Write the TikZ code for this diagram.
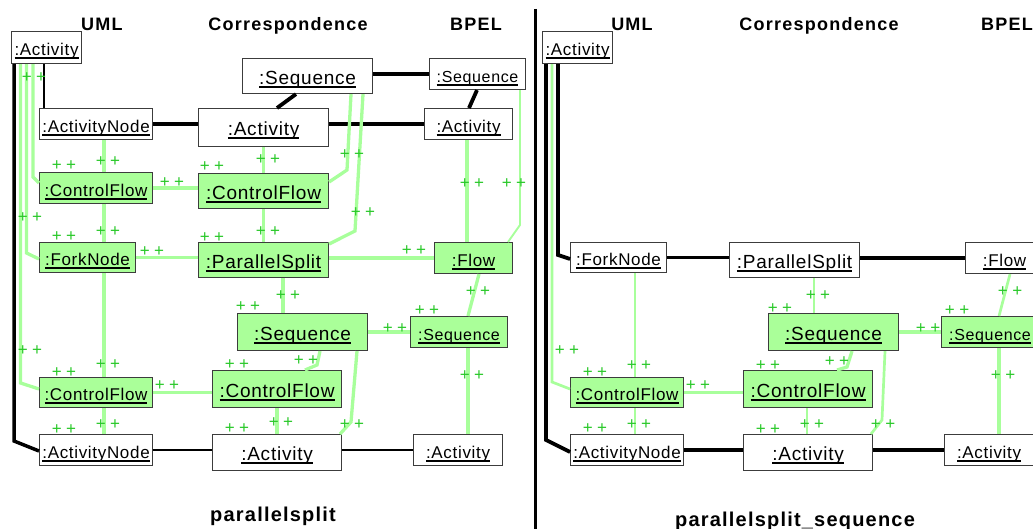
\documentclass[tikz,border=0pt]{standalone}
\usepackage{fontspec}
\setmainfont{Liberation Sans}
\newfontfamily\lblfont[LetterSpace=4]{Liberation Sans}
\newfontfamily\hdrfont[LetterSpace=7]{Liberation Sans}
\newfontfamily\ttlfont[LetterSpace=6]{Liberation Sans}
\newfontfamily\ppfont{Liberation Sans}

\definecolor{lgreen}{RGB}{170,255,153}
\definecolor{lgline}{RGB}{168,255,155}
\definecolor{pgreen}{RGB}{40,200,40}
\definecolor{boxline}{RGB}{60,60,60}

% underlined object label
\newcommand\utext[1]{\setbox0=\hbox{#1}\rlap{\copy0}\rule[-3.5pt]{\wd0}{1.8pt}}

% object box: name, x1, y1, x2, y2, fill style, font style, label
\newcommand\objnode[8]{%
  \node[obj,#6,#7,minimum width={(#4-#2)*1pt},minimum height={(#5-#3)*1pt}] (#1) at (#2,#3) {\utext{#8}};}

% "++" marker: name, x, y (centre of the marks)
\newcommand\pl[3]{\node[pp] (#1) at (#2,#3+6) {+\hspace{4.5pt}+};}

\tikzset{
  obj/.style={draw=boxline, line width=1.1pt, inner sep=0pt, anchor=north west,
              text height=18pt, text depth=2pt},
  umlf/.style={font=\lblfont\fontsize{17}{20}\selectfont},
  seqf/.style={font=\lblfont\fontsize{16}{19}\selectfont},
  corf/.style={font=\lblfont\fontsize{19}{22}\selectfont},
  new/.style={fill=lgreen},
  old/.style={fill=white},
  blk/.style={line width=3.8pt, black},
  blkthin/.style={line width=2pt, black},
  grn/.style={line width=3.3pt, lgline},
  grnmid/.style={line width=2.7pt, lgline},
  grnthin/.style={line width=1.9pt, lgline},
  pp/.style={font=\ppfont\fontsize{17}{20}\selectfont, text=pgreen, inner sep=0pt, anchor=base},
  hdr/.style={font=\hdrfont\bfseries\fontsize{18}{21}\selectfont, inner sep=0pt, anchor=base},
  ttl/.style={font=\ttlfont\bfseries\fontsize{20}{24}\selectfont, inner sep=0pt, anchor=base},
}

\begin{document}
\begin{tikzpicture}[x=1pt, y=-1pt]
\useasboundingbox (0,0) rectangle (1033,529);
\clip (0,0) rectangle (1033,529);

% ---------- column headings and titles ----------
\node[hdr] (hUmlL) at (102,31) {UML};
\node[hdr] (hCorL) at (288,31) {Correspondence};
\node[hdr] (hBpelL) at (476,31) {BPEL};
\node[hdr] (hUmlR) at (632,31) {UML};
\node[hdr] (hCorR) at (819,31) {Correspondence};
\node[hdr] (hBpelR) at (1007,31) {BPEL};
\node[ttl] (titleL) at (273,521) {parallelsplit};
\node[ttl] (titleR) at (795,526) {parallelsplit\_sequence};

% separator between the two rules
\coordinate (sepTop) at (535.5,9);
\coordinate (sepBot) at (535.5,529);
\draw[line width=3.6pt] (sepTop) -- (sepBot);

% ================= rule: parallelsplit =================
% UML side
\objnode{uAct}{11}{31}{81}{63}{old}{umlf}{:Activity}
\objnode{uAN1}{39}{108}{152}{139}{old}{umlf}{:ActivityNode}
\objnode{uCF1}{39}{172}{152}{203}{new}{umlf}{:ControlFlow}
\objnode{uFork}{39}{242}{135}{272}{new}{umlf}{:ForkNode}
\objnode{uCF2}{39}{377}{152}{407}{new}{umlf}{:ControlFlow}
\objnode{uAN2}{39}{434}{152}{465}{old}{umlf}{:ActivityNode}
% correspondence side
\objnode{cSeq}{242}{58}{372}{93}{old}{corf}{:Sequence}
\objnode{cAct1}{198}{108}{328}{146}{old}{corf}{:Activity}
\objnode{cCF1}{198}{173}{328}{208}{new}{corf}{:ControlFlow}
\objnode{cPS}{198}{242}{328}{277}{new}{corf}{:ParallelSplit}
\objnode{cSeq2}{237}{313}{367}{350}{new}{corf}{:Sequence}
\objnode{cCF2}{212}{370}{341}{407}{new}{corf}{:ControlFlow}
\objnode{cAct2}{212}{434}{341}{470}{old}{corf}{:Activity}
% BPEL side
\objnode{bSeq}{429}{58}{525}{89}{old}{seqf}{:Sequence}
\objnode{bAct1}{424}{108}{512}{139}{old}{umlf}{:Activity}
\objnode{bFlow}{434}{242}{512}{273}{new}{umlf}{:Flow}
\objnode{bSeq2}{410}{316}{507}{347}{new}{seqf}{:Sequence}
\objnode{bAct2}{413}{434}{502}{465}{old}{umlf}{:Activity}

% links between existing objects
\draw[blk] (uAN1.east) -- (uAN1.east -| cAct1.west);
\draw[blk] (cSeq.south -| 296,0) -- (cAct1.north -| 277,0);
\draw[blk] (cSeq.east |- bSeq.west) -- (bSeq.west);
\draw[blk] (cAct1.east |- bAct1.west) -- (bAct1.west);
\draw[blk] (bSeq.south -| 477,0) -- (bAct1.north -| 469,0);
\draw[blk, line width=3.5pt] (uAct.south -| 14,0) -- (14,441) -- (uAN2.west |- 0,451);
\draw[blkthin] (uAct.south -| 44,0) -- (uAN1.north -| 44,0);
\draw[blkthin] (uAN2.east) -- (uAN2.east -| cAct2.west);
\draw[blkthin] (cAct2.east |- bAct2.west) -- (bAct2.west);

% links created by the rule
\draw[grn] (uAct.south -| 33,0) -- (33,177) -- (uCF1.west |- 0,183);
\draw[grn] (uAct.south -| 26.5,0) -- (26.5,253) -- (uFork.west |- 0,259);
\draw[grn] (uAct.south -| 20.5,0) -- (20.5,383) -- (uCF2.west |- 0,389);
\draw[grn] (uAN1.south -| 104,0) -- (uCF1.north -| 104,0);
\draw[grn] (uCF1.south -| 104,0) -- (uFork.north -| 104,0);
\draw[grn] (uFork.south -| 104,0) -- (uCF2.north -| 104,0);
\draw[grn] (uCF2.south -| 104,0) -- (uAN2.north -| 104,0);
\draw[grn] (uCF1.east) -- (uCF1.east -| cCF1.west);
\draw[grn] (uFork.east) -- (uFork.east -| cPS.west);
\draw[grn] (uCF2.east) -- (uCF2.east -| cCF2.west);
\draw[grn] (cAct1.south) -- (cCF1.north);
\draw[grn] (cCF1.south) -- (cPS.north);
\draw[grn] (cPS.south -| 283,0) -- (cSeq2.north -| 283,0);
\draw[grn] (cSeq2.south -| 320,0) -- (317,365) -- (cCF2.north -| 305,0);
\draw[grn] (cSeq2.south -| 357,0) -- (351,422) -- (cAct2.north -| 340,0);
\draw[grn] (cCF2.south -| 277,0) -- (cAct2.north -| 277,0);
\draw[grn] (cSeq2.east |- bSeq2.west) -- (bSeq2.west);
\draw[grn] (cPS.east |- bFlow.west) -- (bFlow.west);
\draw[grn] (bFlow.south -| 479,0) -- (bSeq2.north -| 468,0);
\draw[grn] (bSeq2.south -| 468,0) -- (bAct2.north -| 468,0);
\draw[grn] (bAct1.south -| 467,0) -- (bFlow.north -| 467,0);
\draw[grnthin] (bSeq.south -| 520,0) -- (520,225) -- (bFlow.north -| 508,0);
\draw[grn] (cSeq.south -| 351,0) -- (347,170) -- (cCF1.east |- 0,182);
\draw[grn] (cSeq.south -| 363,0) -- (355,231) -- (cPS.east |- 0,244);

% "++" marks
\pl{pa1}{34}{77}   \pl{pa2}{30}{217}  \pl{pa3}{30}{349}
\pl{pa4}{108}{161} \pl{pa5}{64}{165}
\pl{pa6}{108}{231} \pl{pa7}{64}{236}
\pl{pa8}{108}{363} \pl{pa9}{64}{371}
\pl{pa10}{108}{423} \pl{pa11}{64}{428}
\pl{pa12}{172}{182} \pl{pa13}{152}{251} \pl{pa14}{167}{384}
\pl{pa15}{268}{159} \pl{pa16}{212}{166}
\pl{pa17}{268}{231} \pl{pa18}{212}{237}
\pl{pa19}{288}{294} \pl{pa20}{248}{306}
\pl{pa21}{306}{359} \pl{pa22}{237}{363}
\pl{pa23}{352}{423}
\pl{pa24}{281}{421} \pl{pa25}{237}{427}
\pl{pa26}{395}{327}
\pl{pa27}{478}{290} \pl{pa28}{427}{309}
\pl{pa29}{472}{374}
\pl{pa30}{472}{183} \pl{pa31}{514}{183}
\pl{pa32}{414}{250}
\pl{pa33}{352}{154} \pl{pa34}{363}{212}

% ================= rule: parallelsplit_sequence =================
\objnode{rUAct}{542}{31}{612}{63}{old}{umlf}{:Activity}
\objnode{rFork}{570}{242}{666}{272}{old}{umlf}{:ForkNode}
\objnode{rPS}{729}{242}{859}{277}{old}{corf}{:ParallelSplit}
\objnode{rFlow}{965}{242}{1043}{273}{old}{umlf}{:Flow}
\objnode{rCSeq}{768}{313}{898}{350}{new}{corf}{:Sequence}
\objnode{rBSeq}{941}{316}{1038}{347}{new}{seqf}{:Sequence}
\objnode{rUCF}{570}{377}{683}{407}{new}{umlf}{:ControlFlow}
\objnode{rCCF}{743}{370}{872}{407}{new}{corf}{:ControlFlow}
\objnode{rUAN}{570}{434}{683}{465}{old}{umlf}{:ActivityNode}
\objnode{rCAct}{743}{434}{872}{470}{old}{corf}{:Activity}
\objnode{rBAct}{944}{434}{1033}{465}{old}{umlf}{:Activity}

\draw[blk] (rUAct.south -| 546,0) -- (546,440) -- (rUAN.west |- 0,452);
\draw[blk] (rUAct.south -| 558,0) -- (558,255) -- (rFork.west |- 0,259);
\draw[blk] (rFork.east |- 0,257.5) -- (rPS.west |- 0,257.5);
\draw[blk] (rPS.east |- rFlow.west) -- (rFlow.west);
\draw[blk] (rUAN.east) -- (rUAN.east -| rCAct.west);
\draw[blk] (rCAct.east |- rBAct.west) -- (rBAct.west);

\draw[grnmid] (rUAct.south -| 552,0) -- (552,382) -- (rUCF.west |- 0,389);
\draw[grnthin] (rFork.south -| 635,0) -- (rUCF.north -| 635,0);
\draw[grnthin] (rUCF.south -| 635,0) -- (rUAN.north -| 635,0);
\draw[grn] (rUCF.east) -- (rUCF.east -| rCCF.west);
\draw[grnmid] (rPS.south -| 814,0) -- (rCSeq.north -| 814,0);
\draw[grn] (rCSeq.south -| 852,0) -- (847,367) -- (rCCF.north -| 837,0);
\draw[grnmid] (rCSeq.south -| 885,0) -- (882,420) -- (rCAct.north -| 871,0);
\draw[grnthin] (rCCF.south -| 807,0) -- (rCAct.north -| 807,0);
\draw[grn] (rCSeq.east |- rBSeq.west) -- (rBSeq.west);
\draw[grnmid] (rFlow.south -| 1010,0) -- (rBSeq.north -| 999,0);
\draw[grn] (rBSeq.south -| 999,0) -- (rBAct.north -| 999,0);

\pl{pb1}{567}{349}
\pl{pb2}{639}{364} \pl{pb3}{595}{371}
\pl{pb4}{639}{423} \pl{pb5}{595}{427}
\pl{pb6}{698}{384}
\pl{pb7}{818}{295} \pl{pb8}{780}{307}
\pl{pb9}{837}{360} \pl{pb10}{768}{364}
\pl{pb11}{883}{423}
\pl{pb12}{812}{423} \pl{pb13}{768}{428}
\pl{pb14}{928}{327}
\pl{pb15}{1010}{291} \pl{pb16}{957}{310}
\pl{pb17}{1003}{374}
\end{tikzpicture}
\end{document}
